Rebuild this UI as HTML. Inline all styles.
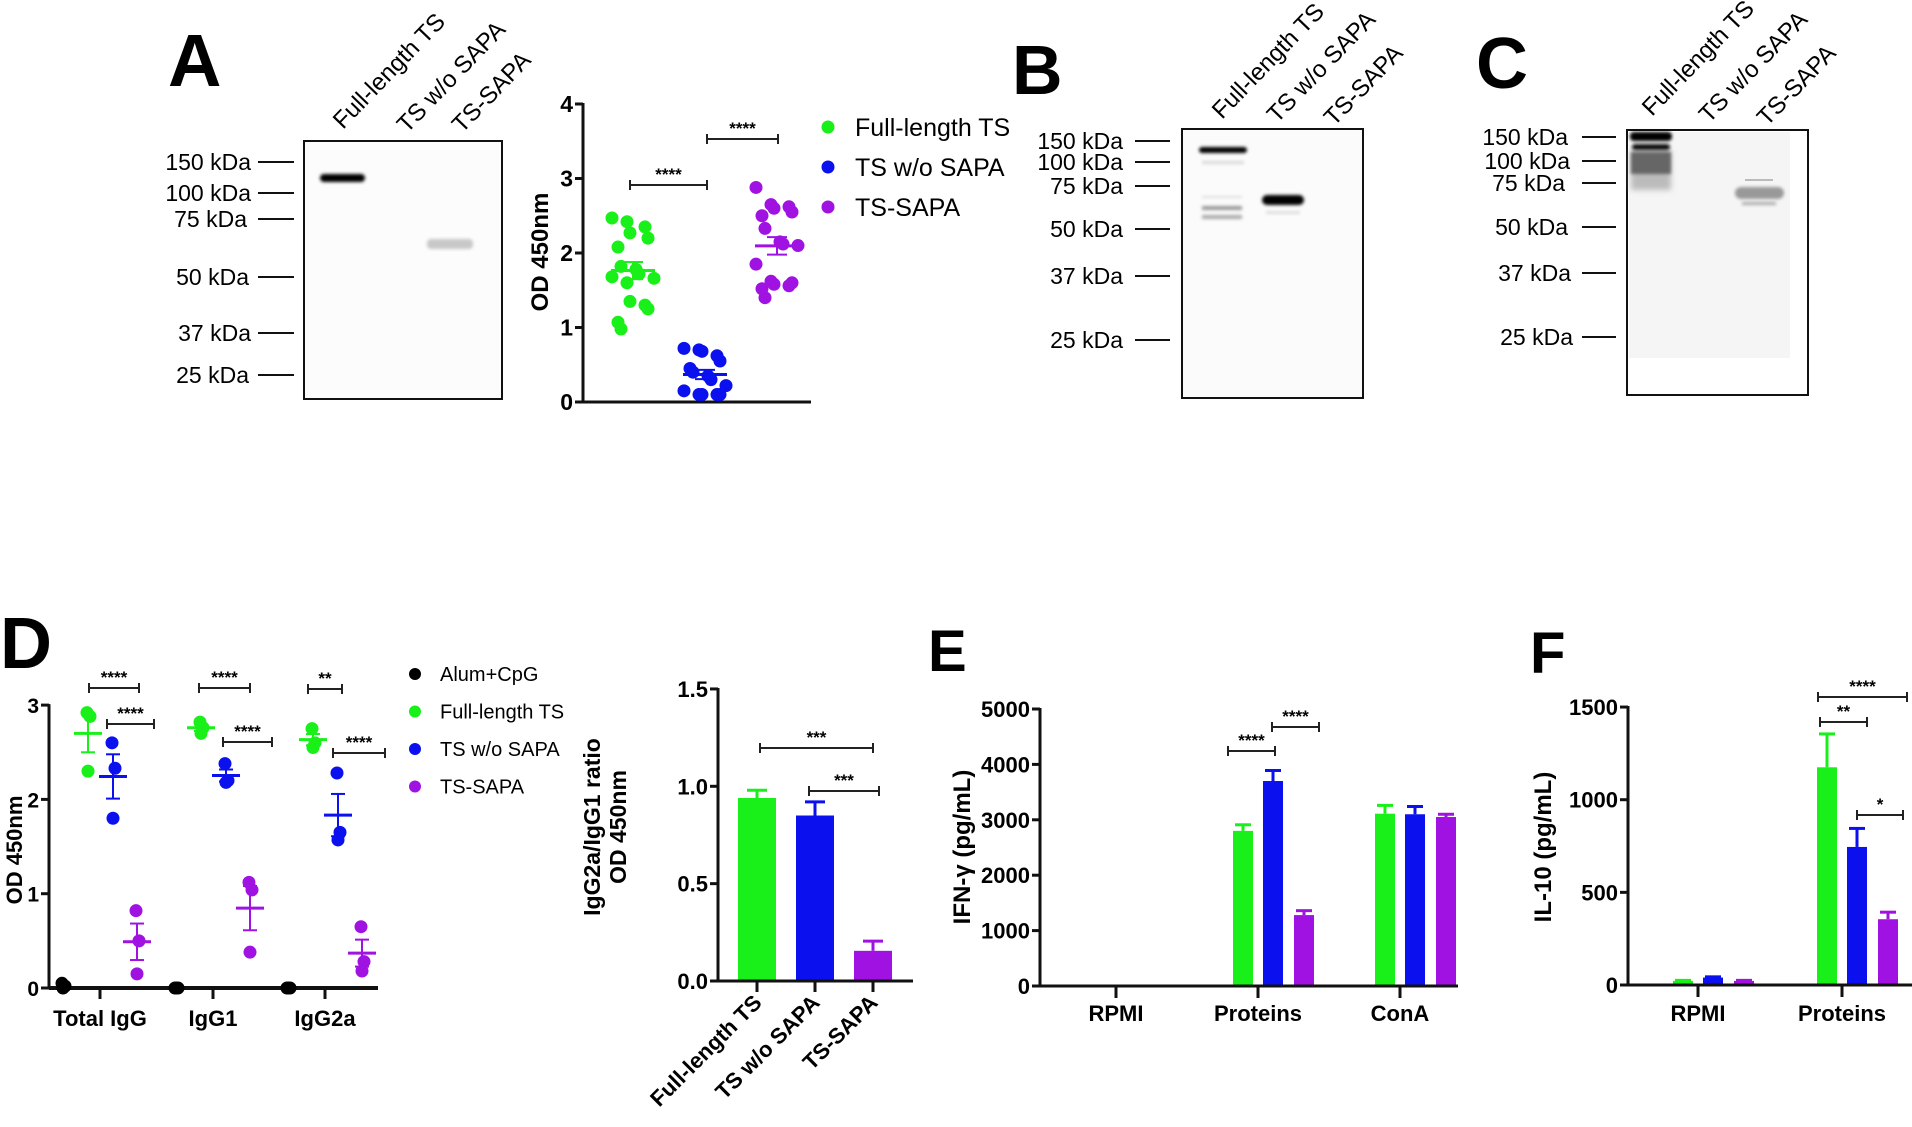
<!DOCTYPE html>
<html><head><meta charset="utf-8">
<style>
html,body{margin:0;padding:0;background:#fff;}
svg{display:block;font-family:"Liberation Sans",Arial,sans-serif;}
.b{font-weight:bold;}
</style></head>
<body>
<svg id="fig" width="1912" height="1127" viewBox="0 0 1912 1127" xmlns="http://www.w3.org/2000/svg">
<defs>
<filter id="blur1" x="-20%" y="-200%" width="140%" height="500%"><feGaussianBlur stdDeviation="1.5"/></filter>
<filter id="blur3" x="-20%" y="-200%" width="140%" height="500%"><feGaussianBlur stdDeviation="3"/></filter>
</defs>

<!-- ===== Panel A blot ===== -->
<g>
<text x="168" y="86" class="b" font-size="74">A</text>
<text transform="translate(343,130) rotate(-46)" font-size="24">Full-length  TS</text>
<text transform="translate(407,134) rotate(-46)" font-size="24">TS w/o SAPA</text>
<text transform="translate(462,134) rotate(-46)" font-size="24">TS-SAPA</text>
<rect x="304" y="141" width="198" height="258" fill="#fcfcfc" stroke="#111" stroke-width="2"/>
<g font-size="23" text-anchor="end">
<text x="251" y="170">150 kDa</text><text x="251" y="201">100 kDa</text><text x="247" y="227">75 kDa</text>
<text x="249" y="285">50 kDa</text><text x="251" y="341">37 kDa</text><text x="249" y="383">25 kDa</text>
</g>
<g stroke="#111" stroke-width="2">
<line x1="258" y1="162" x2="294" y2="162"/><line x1="258" y1="193" x2="294" y2="193"/><line x1="258" y1="219" x2="294" y2="219"/>
<line x1="258" y1="277" x2="294" y2="277"/><line x1="258" y1="333" x2="294" y2="333"/><line x1="258" y1="375" x2="294" y2="375"/>
</g>
<rect x="320" y="174" width="45" height="8" rx="4" fill="#000" filter="url(#blur1)"/>
<rect x="427" y="239" width="46" height="10" rx="4" fill="#c8c8c8" filter="url(#blur1)"/>
</g>

<!-- ===== Panel B blot ===== -->
<g>
<text x="1012" y="94" class="b" font-size="70">B</text>
<text transform="translate(1222,120) rotate(-46)" font-size="24">Full-length  TS</text>
<text transform="translate(1277,124) rotate(-46)" font-size="24">TS w/o SAPA</text>
<text transform="translate(1334,127) rotate(-46)" font-size="24">TS-SAPA</text>
<rect x="1182" y="129" width="181" height="269" fill="#fbfbfb" stroke="#111" stroke-width="2"/>
<g font-size="23" text-anchor="end">
<text x="1123" y="149">150 kDa</text><text x="1123" y="170">100 kDa</text><text x="1123" y="194">75 kDa</text>
<text x="1123" y="237">50 kDa</text><text x="1123" y="284">37 kDa</text><text x="1123" y="348">25 kDa</text>
</g>
<g stroke="#111" stroke-width="2">
<line x1="1135" y1="141" x2="1170" y2="141"/><line x1="1135" y1="162" x2="1170" y2="162"/><line x1="1135" y1="186" x2="1170" y2="186"/>
<line x1="1135" y1="229" x2="1170" y2="229"/><line x1="1135" y1="276" x2="1170" y2="276"/><line x1="1135" y1="340" x2="1170" y2="340"/>
</g>
<rect x="1199" y="147" width="48" height="6" rx="3" fill="#000" filter="url(#blur1)"/>
<rect x="1202" y="161" width="42" height="3" fill="#d8d8d8" filter="url(#blur1)"/>
<rect x="1202" y="196" width="40" height="2" fill="#ddd" filter="url(#blur1)"/>
<rect x="1202" y="206" width="40" height="4" fill="#999" filter="url(#blur1)"/>
<rect x="1202" y="215" width="40" height="4" fill="#aaa" filter="url(#blur1)"/>
<rect x="1262" y="195" width="42" height="10" rx="5" fill="#000" filter="url(#blur1)"/>
<rect x="1266" y="211" width="34" height="3" fill="#ddd" filter="url(#blur1)"/>
</g>

<!-- ===== Panel C blot ===== -->
<g>
<text x="1476" y="88" class="b" font-size="72">C</text>
<text transform="translate(1652,117) rotate(-46)" font-size="24">Full-length  TS</text>
<text transform="translate(1709,124) rotate(-46)" font-size="24">TS w/o SAPA</text>
<text transform="translate(1767,127) rotate(-46)" font-size="24">TS-SAPA</text>
<rect x="1627" y="130" width="181" height="265" fill="#fff" stroke="#111" stroke-width="2"/>
<rect x="1629" y="132" width="161" height="226" fill="#f5f5f5"/>
<g font-size="23" text-anchor="end">
<text x="1568" y="145">150 kDa</text><text x="1570" y="169">100 kDa</text><text x="1565" y="191">75 kDa</text>
<text x="1568" y="235">50 kDa</text><text x="1571" y="281">37 kDa</text><text x="1573" y="345">25 kDa</text>
</g>
<g stroke="#111" stroke-width="2">
<line x1="1582" y1="137" x2="1616" y2="137"/><line x1="1582" y1="161" x2="1616" y2="161"/><line x1="1582" y1="183" x2="1616" y2="183"/>
<line x1="1582" y1="227" x2="1616" y2="227"/><line x1="1582" y1="273" x2="1616" y2="273"/><line x1="1582" y1="337" x2="1616" y2="337"/>
</g>
<rect x="1631" y="150" width="40" height="40" fill="#bbb" filter="url(#blur3)"/>
<rect x="1631" y="152" width="40" height="22" fill="#666" filter="url(#blur1)"/>
<rect x="1630" y="132" width="42" height="9" rx="4" fill="#000" filter="url(#blur1)"/>
<rect x="1632" y="144" width="38" height="6" rx="3" fill="#111" filter="url(#blur1)"/>
<rect x="1735" y="187" width="49" height="12" rx="6" fill="#999" filter="url(#blur1)"/>
<rect x="1745" y="179" width="28" height="2" fill="#bbb"/>
<rect x="1742" y="202" width="34" height="3" fill="#aaa" filter="url(#blur1)"/>
</g>

<text x="0" y="668" class="b" font-size="72">D</text>
<text x="928" y="671" class="b" font-size="58">E</text>
<text x="1530" y="673" class="b" font-size="58">F</text>

<g id="chartA"></g>
<g id="chartD"></g>
<g id="chartR"></g>
<g id="chartE"></g>
<g id="chartF"></g>
</svg>

<script>
// ===== Data =====
const aGreen = [2.47,2.42,2.27,2.35,2.2,2.08,1.82,1.78,1.72,1.66,1.68,1.6,1.35,1.3,1.25,1.07,0.98];
const aBlue = [0.72,0.7,0.68,0.62,0.55,0.45,0.4,0.35,0.3,0.22,0.15,0.1,0.1,0.1,0.1];
const aPurple = [2.88,2.65,2.6,2.62,2.55,2.5,2.33,2.15,2.12,2.1,1.85,1.62,1.58,1.56,1.6,1.52,1.4];
const aTicks = [0,1,2,3,4];
const groupNames = ["Full-length TS","TS w/o SAPA","TS-SAPA"];

const dCategories = ["Total IgG","IgG1","IgG2a"];
const dLegend = ["Alum+CpG","Full-length TS","TS w/o SAPA","TS-SAPA"];
const dAlum = [[0.05,0.02,0.0],[0.0,0.0,0.0],[0.0,0.0,0.0]];
const dFull = [[2.92,2.88,2.3],[2.82,2.76,2.7],[2.75,2.6,2.55]];
const dWo = [[2.6,2.33,1.8],[2.38,2.2,2.18],[2.28,1.65,1.57]];
const dSapa = [[0.82,0.5,0.15],[1.12,1.04,0.38],[0.65,0.28,0.18]];
const dTicks = [0,1,2,3];

const rValues = [0.94,0.85,0.155];
const rErrors = [0.04,0.07,0.05];
const rTicks = [0,0.5,1.0,1.5];
const rTickLabels = ["0.0","0.5","1.0","1.5"];

const eCategories = ["RPMI","Proteins","ConA"];
const eFull = [0,2800,3110];
const eWo = [0,3700,3100];
const eSapa = [0,1280,3050];
const eFullErr = [0,110,150];
const eWoErr = [0,190,140];
const eSapaErr = [0,80,50];
const eTicks = [0,1000,2000,3000,4000,5000];

const fCategories = ["RPMI","Proteins"];
const fFull = [22,1175];
const fWo = [40,745];
const fSapa = [22,355];
const fFullErr = [3,180];
const fWoErr = [4,100];
const fSapaErr = [3,38];
const fTicks = [0,500,1000,1500];

const GREEN="#19f019", BLUE="#0a10ee", PURPLE="#a012e2";
const NS="http://www.w3.org/2000/svg";
function mk(tag, attrs, parent){
  const e=document.createElementNS(NS,tag);
  for(const k in attrs) e.setAttribute(k, attrs[k]);
  parent.appendChild(e);
  return e;
}
function line(p,x1,y1,x2,y2,c,w){return mk('line',{x1:x1,y1:y1,x2:x2,y2:y2,stroke:c||'#111','stroke-width':w||3},p);}
function txt(p,x,y,s,size,anchor,bold){
  const t=mk('text',{x:x,y:y,'font-size':size,'text-anchor':anchor||'start','font-weight':bold?'bold':'normal'},p);
  t.textContent=s; return t;
}
function sig(p,x1,x2,y,stars){
  const g=mk('g',{},p);
  
  
  line(g,x1,y,x2,y,'#222',2); line(g,x1,y-5,x1,y+5,'#222',2); line(g,x2,y-5,x2,y+5,'#222',2);
  txt(g,(x1+x2)/2,y-5,stars,17,'middle',true);
}
function mean(a){return a.reduce((s,v)=>s+v,0)/a.length;}
function sem(a){const m=mean(a);const sd=Math.sqrt(a.reduce((s,v)=>s+(v-m)*(v-m),0)/(a.length-1));return sd/Math.sqrt(a.length);}
function yAxis(p,x,ys,ticks,labels,size){
  line(p,x,ys(ticks[ticks.length-1])-1,x,ys(ticks[0])+1,'#111',3);
  ticks.forEach((t,i)=>{
    line(p,x-8,ys(t),x,ys(t),'#111',3);
    const l=txt(p,x-10,ys(t)+8,labels?labels[i]:String(t),size||22,'end',true);
    
    
  });
}
function ylabel(p,x,y,s,size){
  const t=mk('text',{transform:'translate('+x+','+y+') rotate(-90)','font-size':size||24,'text-anchor':'middle','font-weight':'bold'},p);
  t.textContent=s;
  
  
  return t;
}

// ===== Chart A =====
(function(){
  const g=document.getElementById('chartA');
  const y0=402, k=74.5, ax=583;
  const ys=v=>y0-v*k;
  yAxis(g,ax,ys,aTicks,null,23);
  line(g,ax,y0,811,y0,'#111',3);
  ylabel(g,548,252,'OD 450nm',24);
  const cx=[633,705,777], cols=[GREEN,BLUE,PURPLE], sets=[aGreen,aBlue,aPurple];
  sets.forEach((arr,gi)=>{
    arr.forEach((v,i)=>{
      const off=((i%5)-2)*9 + ((i%2)?3:-3);
      const c=mk('circle',{cx:cx[gi]+off,cy:ys(v),r:6.5,fill:cols[gi]},g);
      
      
    });
    const m=mean(arr), s=sem(arr);
    line(g,cx[gi]-22,ys(m),cx[gi]+22,ys(m),cols[gi],3);
    line(g,cx[gi],ys(m+s),cx[gi],ys(m-s),cols[gi],2);
    line(g,cx[gi]-10,ys(m+s),cx[gi]+10,ys(m+s),cols[gi],2);
    line(g,cx[gi]-10,ys(m-s),cx[gi]+10,ys(m-s),cols[gi],2);
  });
  sig(g,630,707,185,'****');
  sig(g,707,778,139,'****');
  groupNames.forEach((n,i)=>{
    const lg=mk('g',{},g);
    
    
    mk('circle',{cx:828,cy:127+i*40,r:6.5,fill:cols[i]},lg);
    txt(lg,855,136+i*40,n,25,'start',false);
  });
})();

// ===== Chart D =====
(function(){
  const g=document.getElementById('chartD');
  const y0=988, k=94.3, ax=49;
  const ys=v=>y0-v*k;
  yAxis(g,ax,ys,dTicks,null,21);
  line(g,ax,y0,378,y0,'#111',4);
  ylabel(g,22,850,'OD 450nm',22);
  const ticksX=[100,213,325], offs=[-37,-12,13,37];
  const cols=['#000',GREEN,BLUE,PURPLE], sets=[dAlum,dFull,dWo,dSapa];
  dCategories.forEach((c,ci)=>{
    line(g,ticksX[ci],y0,ticksX[ci],y0+11,'#111',3);
    const l=txt(g,ticksX[ci],1026,c,22,'middle',true);
    
    
    sets.forEach((set,si)=>{
      const arr=set[ci], x=ticksX[ci]+offs[si];
      arr.forEach((v,i)=>{
        const p=mk('circle',{cx:x+[-1,2,0][i],cy:ys(v),r:6.5,fill:cols[si]},g);
        
        
      });
      if(si>0){
        const m=mean(arr), s=sem(arr);
        line(g,x-14,ys(m),x+14,ys(m),cols[si],3);
        line(g,x,ys(m+s),x,ys(m-s),cols[si],2);
        line(g,x-7,ys(m+s),x+7,ys(m+s),cols[si],2);
        line(g,x-7,ys(m-s),x+7,ys(m-s),cols[si],2);
      }
    });
  });
  sig(g,89,139,688,'****'); sig(g,107,154,724,'****');
  sig(g,199,250,688,'****'); sig(g,223,272,742,'****');
  sig(g,308,342,689,'**'); sig(g,333,385,753,'****');
  dLegend.forEach((n,i)=>{
    const lg=mk('g',{},g);
    
    
    mk('circle',{cx:415,cy:674+i*37.5,r:6,fill:cols[i]},lg);
    txt(lg,440,681+i*37.5,n,20,'start',false);
  });
})();

// ===== Ratio chart =====
(function(){
  const g=document.getElementById('chartR');
  const y0=981, k=194.7, ax=718;
  const ys=v=>y0-v*k;
  yAxis(g,ax,ys,rTicks,rTickLabels,22);
  line(g,ax,y0,913,y0,'#111',3);
  ylabel(g,600,827,'IgG2a/IgG1 ratio',23);
  ylabel(g,626,827,'OD 450nm',23);
  const cx=[757,815,873], cols=[GREEN,BLUE,PURPLE];
  rValues.forEach((v,i)=>{
    line(g,cx[i],ys(v+rErrors[i]),cx[i],ys(v),cols[i],3);
    line(g,cx[i]-10,ys(v+rErrors[i]),cx[i]+10,ys(v+rErrors[i]),cols[i],3);
    const r=mk('rect',{x:cx[i]-19,y:ys(v),width:38,height:y0-ys(v),fill:cols[i]},g);
    
    
    line(g,cx[i],y0,cx[i],y0+11,'#111',3);
    const t=mk('text',{transform:'translate('+(cx[i]+6)+',1004) rotate(-45)','font-size':22,'text-anchor':'end','font-weight':'bold'},g);
    t.textContent=groupNames[i];
    
    
  });
  line(g,ax,y0,913,y0,'#111',3);
  sig(g,760,873,748,'***');
  sig(g,809,879,791,'***');
})();

// ===== Grouped bar helper =====
function grouped(g,y0,k,ax,xEnd,ticks,cats,catX,series,errs,title,titleX){
  const ys=v=>y0-v*k;
  yAxis(g,ax,ys,ticks,null,22);
  ylabel(g,titleX,847,title,24);
  const offs=[-15,15,46], cols=[GREEN,BLUE,PURPLE];
  cats.forEach((c,ci)=>{
    const x0=catX(ci);
    series.forEach((arr,si)=>{
      const v=arr[ci], e=errs[si][ci], x=x0+offs[si];
      if(v<=0) return;
      line(g,x,ys(v+e),x,ys(v),cols[si],3);
      line(g,x-8,ys(v+e),x+8,ys(v+e),cols[si],3);
      const r=mk('rect',{x:x-10,y:ys(v),width:20,height:y0-ys(v),fill:cols[si]},g);
      
      
    });
    line(g,x0,y0,x0,y0+12,'#111',3);
    const l=txt(g,x0,1021,c,22,'middle',true);
    
    
  });
  line(g,ax,y0,xEnd,y0,'#111',3);
}
(function(){
  const g=document.getElementById('chartE');
  grouped(g,986,0.0554,1040,1458,eTicks,eCategories,i=>1116+i*142,[eFull,eWo,eSapa],[eFullErr,eWoErr,eSapaErr],'IFN-\u03B3 (pg/mL)',970);
  sig(g,1228,1275,751,'****');
  sig(g,1272,1319,727,'****');
})();
(function(){
  const g=document.getElementById('chartF');
  grouped(g,985,0.1853,1628,1912,fTicks,fCategories,i=>1698+i*144,[fFull,fWo,fSapa],[fFullErr,fWoErr,fSapaErr],'IL-10 (pg/mL)',1551);
  sig(g,1818,1907,697,'****');
  sig(g,1820,1867,722,'**');
  sig(g,1857,1903,815,'*');
})();
</script>
</body></html>
